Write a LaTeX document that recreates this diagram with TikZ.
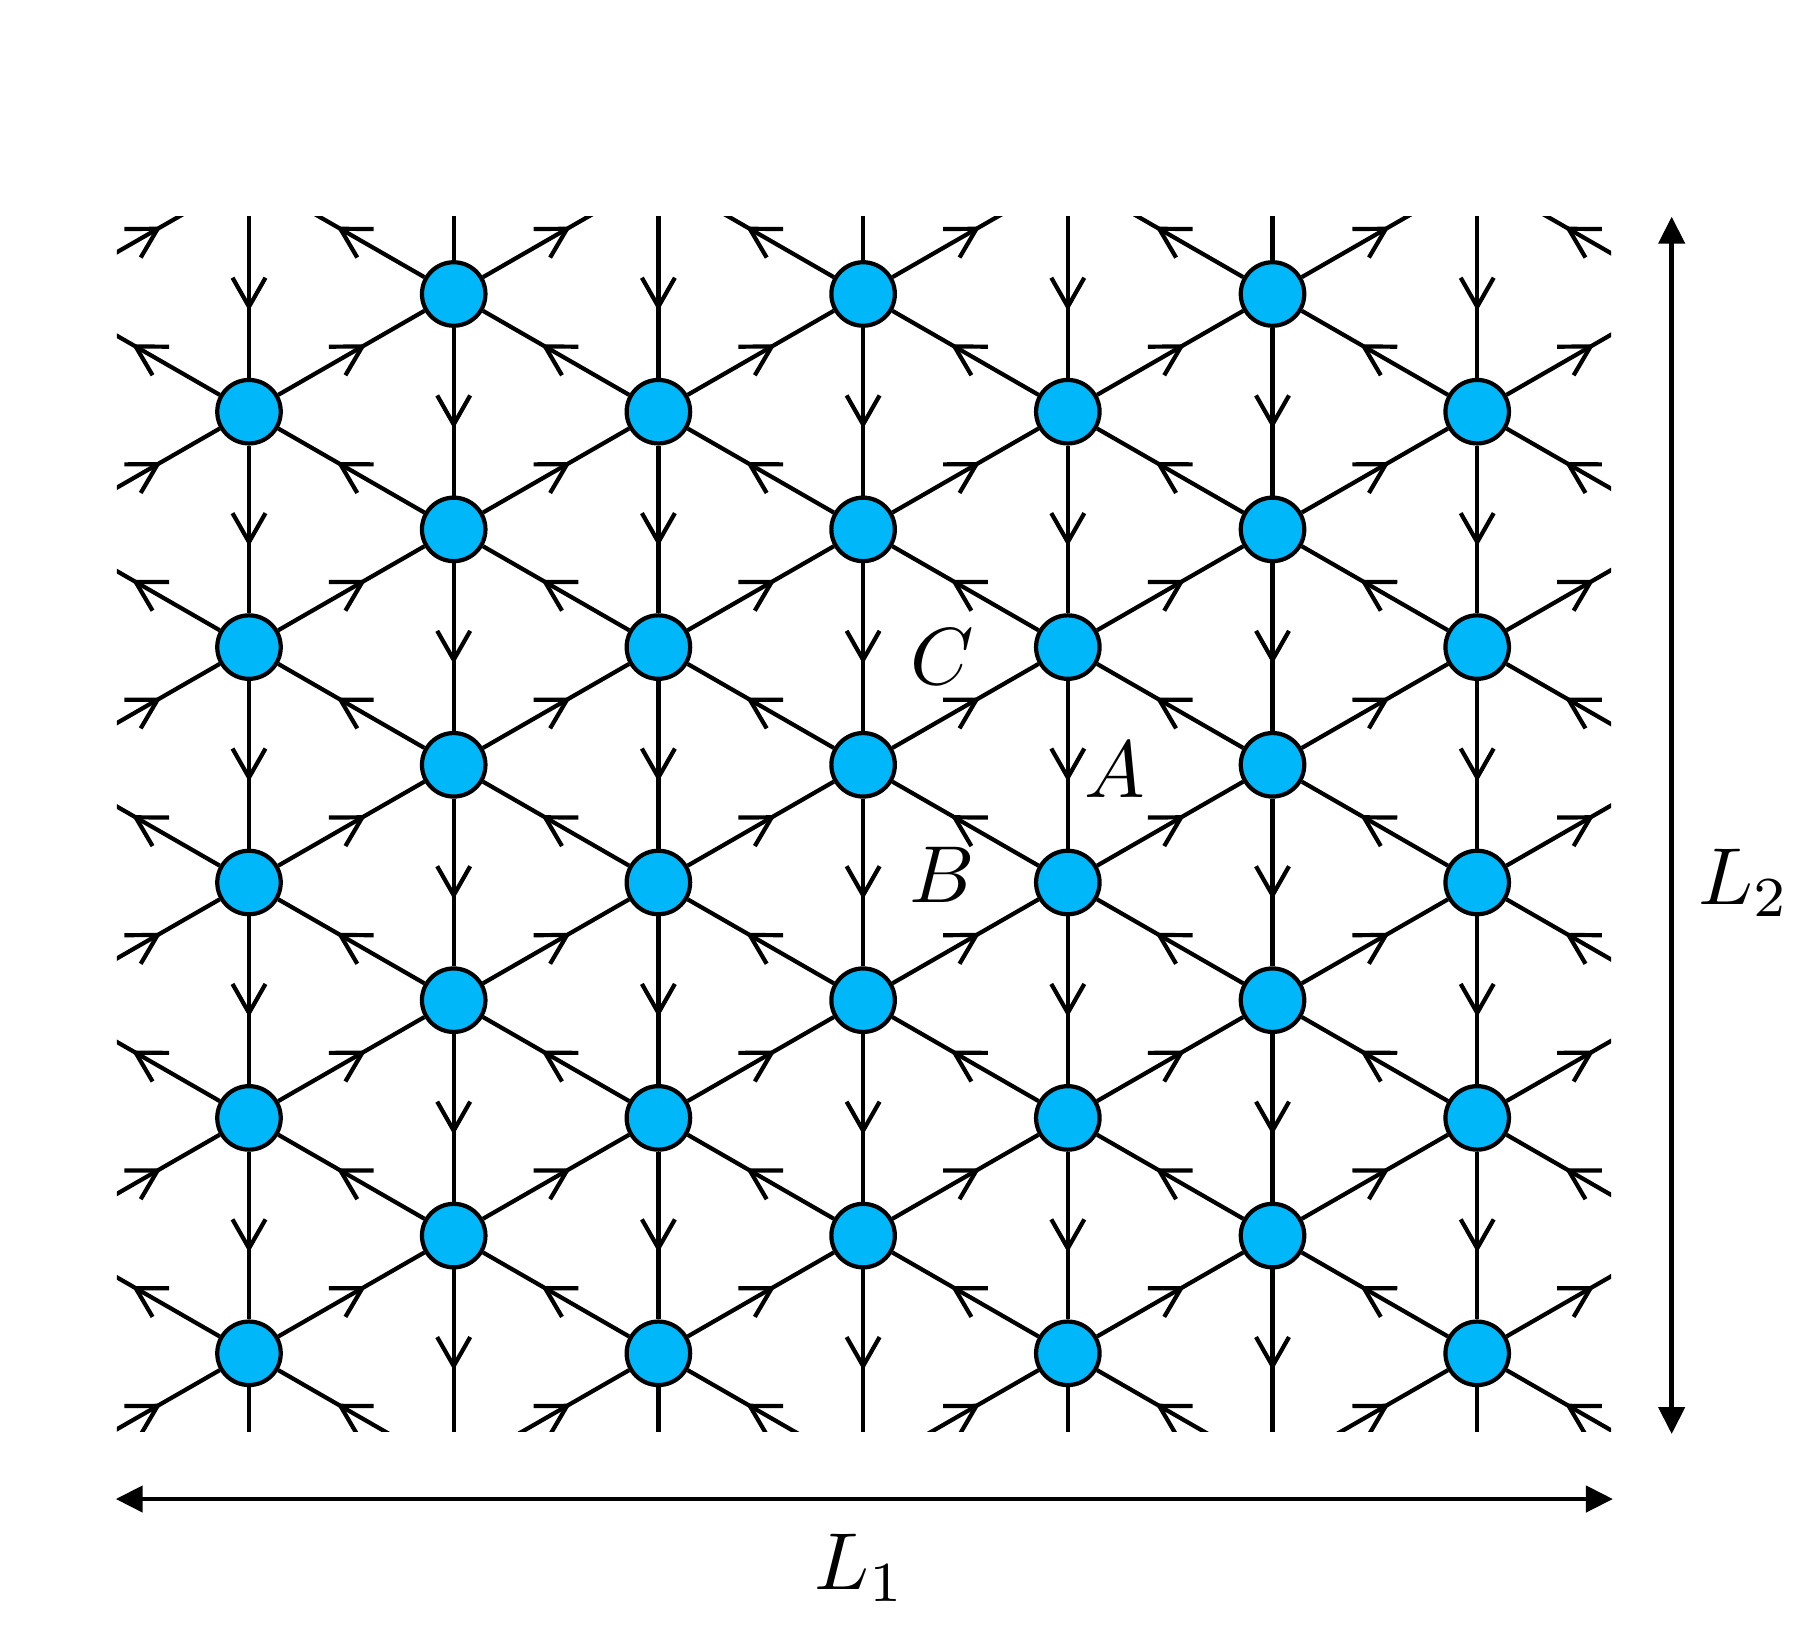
\documentclass[tikz,border=0pt]{standalone}
\usetikzlibrary{arrows.meta,decorations.markings,backgrounds}
\definecolor{siteblue}{RGB}{0,183,250}

\begin{document}
\begin{tikzpicture}[x=2.047cm, y=1.177cm,
  site/.style={circle, draw, line width=1.2pt, fill=siteblue,
               minimum size=6.35mm, inner sep=0pt},
  bond/.style={line width=1.2pt, postaction={decorate},
               decoration={markings, mark=at position 0.5 with
               {\arrow[xshift=1.7mm]{Straight Barb[length=2.9mm,width=3.3mm]}}}},
  dim/.style={line width=1.3pt,
              {Triangle[length=2.7mm,width=2.6mm]}-{Triangle[length=2.7mm,width=2.6mm]}},
  lbl/.style={scale=2.3}]
\useasboundingbox (-0.443cm,-2.917cm) rectangle (17.607cm,13.533cm);
% window of the lattice
\coordinate (sw) at (0.355,-0.666);
\coordinate (ne) at (7.654,9.657);
\begin{scope}
\clip (sw) rectangle (ne);
\foreach \i in {0,...,8}{
  \foreach \j in {0,...,15}{
    \pgfmathtruncatemacro\odd{mod(\i+\j,2)}
    \ifnum\odd=1
      \node[site] (s\i-\j) at (\i,\j-4) {};
    \fi
  }
}
\begin{scope}[on background layer]
\clip (sw) rectangle (ne);
\foreach \i in {0,...,8}{
  \foreach \j in {0,...,14}{
    \pgfmathtruncatemacro\odd{mod(\i+\j,2)}
    \pgfmathtruncatemacro\jup{\j+1}
    \pgfmathtruncatemacro\jtop{\j+2}
    \pgfmathtruncatemacro\iright{\i+1}
    \pgfmathtruncatemacro\ileft{\i-1}
    \ifnum\odd=1
      \ifnum\j<14 \draw[bond] (s\i-\jtop) -- (s\i-\j); \fi
      \ifnum\i<8 \draw[bond] (s\i-\j) -- (s\iright-\jup); \fi
      \ifnum\i>0 \draw[bond] (s\i-\j) -- (s\ileft-\jup); \fi
    \fi
  }
}
\end{scope}
\end{scope}
% plaquette labels
\node[lbl] (la) at (5.231,4.956) {$A$};
\node[lbl] (lb) at (4.386,4.064) {$B$};
\node[lbl] (lc) at (4.386,5.916) {$C$};
% system size
\coordinate (w1) at (0.349,-1.238);
\coordinate (e1) at (7.663,-1.238);
\draw[dim] (w1) -- (e1);
\node[lbl] (len1) at (3.985,-1.824) {$L_1$};
\coordinate (bot2) at (7.950,-0.686);
\coordinate (top2) at (7.950,9.657);
\draw[dim] (bot2) -- (top2);
\node[lbl] (len2) at (8.303,3.996) {$L_2$};
\end{tikzpicture}
\end{document}
